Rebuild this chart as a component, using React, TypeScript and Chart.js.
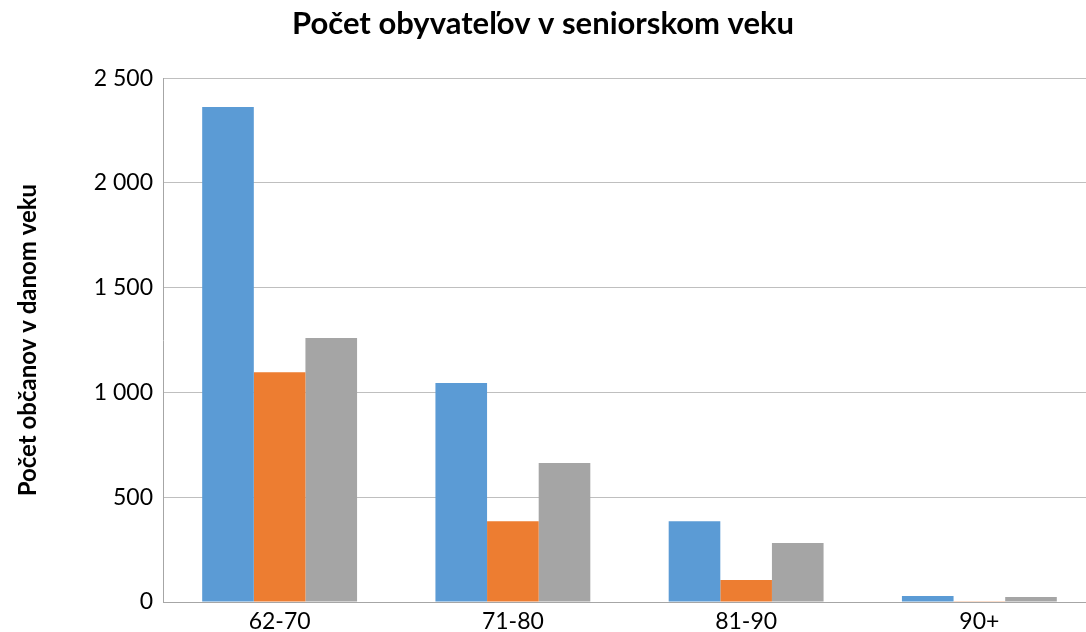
import React, { useEffect, useRef } from "react";
import { Chart, registerables } from "chart.js";

Chart.register(...registerables);

const categories = ["62-70", "71-80", "81-90", "90+"];
const seriesA = [2362, 1045, 386, 29];
const seriesB = [1097, 386, 105, 3];
const seriesC = [1260, 663, 281, 24];
const yTicks = [0, 500, 1000, 1500, 2000, 2500];

const titleText = "Počet obyvateľov v seniorskom veku";
const yTitleText = "Počet občanov v danom veku";

const FONT = "Lato, 'Open Sans', 'DejaVu Sans', sans-serif";
const VIEW_W = 1086;
const CANVAS_W = 1096;
const CANVAS_H = 632;

function fmt(v: number): string {
  const s = String(Math.round(v));
  return s.replace(/\B(?=(\d{3})+(?!\d))/g, " ");
}

const titleFix = {
  id: "titleFix",
  afterLayout(chart: any) {
    const tb = chart.titleBlock;
    if (tb) {
      tb.left = 0;
      tb.right = VIEW_W;
      tb.width = VIEW_W;
    }
  },
};

export default function App() {
  const ref = useRef<HTMLCanvasElement | null>(null);
  useEffect(() => {
    if (!ref.current) return;
    const chart = new Chart(ref.current, {
      type: "bar",
      data: {
        labels: categories,
        datasets: [
          { label: "A", data: seriesA, backgroundColor: "#5b9bd5" },
          { label: "B", data: seriesB, backgroundColor: "#ed7d31" },
          { label: "C", data: seriesC, backgroundColor: "#a5a5a5" },
        ],
      },
      plugins: [titleFix],
      options: {
        animation: false,
        responsive: false,
        maintainAspectRatio: false,
        layout: { padding: { left: 0, right: 0, top: 0, bottom: 0 } },
        datasets: {
          bar: { categoryPercentage: 0.664, barPercentage: 1 },
        },
        plugins: {
          legend: { display: false },
          tooltip: { enabled: false },
          title: {
            display: true,
            text: titleText,
            color: "#000",
            font: { family: FONT, size: 31, weight: "bold" },
            padding: { top: 5, bottom: 36 },
          },
        },
        scales: {
          x: {
            grid: { display: false, drawTicks: false },
            border: { display: true, color: "#a6a6a6", width: 1 },
            ticks: {
              color: "#000",
              font: { family: FONT, size: 23 },
              padding: 6,
            },
            afterFit: (s: any) => {
              s.height = 30;
            },
          },
          y: {
            min: 0,
            max: 2500,
            afterBuildTicks: (s: any) => {
              s.ticks = yTicks.map((v) => ({ value: v }));
            },
            grid: { color: "#bfbfbf", drawTicks: false, lineWidth: 1 },
            border: { display: true, color: "#a6a6a6", width: 1 },
            ticks: {
              color: "#000",
              font: { family: FONT, size: 23 },
              padding: 10,
              callback: (v: any) => fmt(Number(v)),
            },
            title: {
              display: true,
              text: yTitleText,
              color: "#000",
              font: { family: FONT, size: 24, weight: "bold" },
              padding: { top: 14, bottom: 0 },
            },
            afterFit: (s: any) => {
              s.width = 163;
            },
          },
        },
      },
    });
    return () => chart.destroy();
  }, []);
  return (
    <div style={{ position: "fixed", left: 0, top: 0, width: VIEW_W, height: CANVAS_H, background: "#fff", overflow: "hidden" }}>
      <canvas ref={ref} width={CANVAS_W} height={CANVAS_H} style={{ display: "block" }} />
    </div>
  );
}
